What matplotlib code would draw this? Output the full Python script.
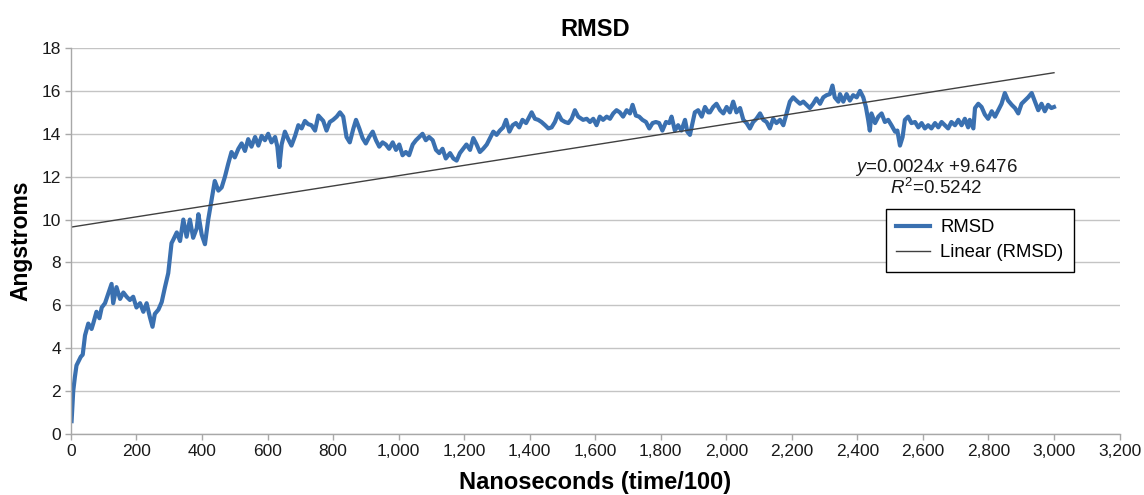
import matplotlib
matplotlib.use("Agg")
import matplotlib.pyplot as plt
from matplotlib.ticker import FuncFormatter, MultipleLocator

plt.rcParams['font.family'] = ['Liberation Sans', 'DejaVu Sans']
plt.rcParams['mathtext.fontset'] = 'custom'
plt.rcParams['mathtext.rm'] = 'Liberation Sans'
plt.rcParams['mathtext.it'] = 'Liberation Sans:italic'

# ---- data ----
time = [2, 7, 12, 17, 22, 30, 36, 43, 53, 63, 68, 78, 87, 94, 104, 114, 124, 129, 139, 150,
        160, 170, 180, 190, 200, 211, 221, 231, 241, 249, 256, 267, 277, 287, 297, 307, 312, 323,
        333, 343, 353,
        363, 373, 384, 389, 399, 409, 419, 429, 439, 450, 460, 470, 480, 490, 500, 511, 521, 531,
        541, 551, 562, 572, 582, 592, 602, 612, 623, 630, 636, 643, 653, 663, 673, 684, 694, 704,
        714, 724, 734, 745, 755,
        770, 780, 790, 800, 811, 821, 831, 841, 851, 862, 870, 880, 890, 900, 910, 921, 931, 941,
        951, 961, 971, 982, 992, 1002, 1012, 1022, 1032, 1043, 1053, 1063, 1073, 1083, 1093, 1104,
        1114, 1124, 1134, 1144,
        1157, 1167, 1177, 1187, 1197, 1207, 1218, 1228, 1238, 1248, 1258, 1269, 1279, 1289, 1299,
        1309, 1319, 1328, 1338, 1348, 1358, 1368, 1378, 1389, 1399, 1406, 1416, 1426, 1436, 1447,
        1457, 1467, 1477, 1487, 1497, 1508, 1518, 1528, 1538, 1548,
        1563, 1574, 1584, 1594, 1604, 1614, 1624, 1635, 1645, 1655, 1665, 1675, 1685, 1696, 1706,
        1714, 1724, 1734, 1744, 1755, 1765, 1775, 1785, 1795, 1805, 1816, 1826, 1833, 1843, 1853,
        1863, 1874, 1881, 1889, 1897, 1904, 1914, 1925, 1935, 1945,
        1950, 1960, 1970, 1981, 1991, 2001, 2011, 2021, 2031, 2042, 2052, 2062, 2072, 2082, 2092,
        2103, 2113, 2123, 2133, 2143, 2153, 2164, 2174, 2184, 2194, 2204, 2214, 2225, 2235, 2245,
        2255, 2265, 2275, 2286, 2296, 2306, 2316, 2324, 2331, 2342,
        2347, 2357, 2367, 2377, 2387, 2398, 2408, 2418, 2426, 2433, 2438, 2443, 2454, 2464, 2474,
        2484, 2494, 2504, 2515, 2522, 2530, 2538, 2545, 2555, 2565, 2576, 2586, 2596, 2606, 2616,
        2626, 2637, 2647, 2657, 2667, 2677, 2687, 2698, 2708, 2718, 2728, 2738,
        2743, 2754, 2759, 2769, 2779, 2789, 2799, 2810, 2820, 2830, 2840, 2850, 2860, 2871, 2881,
        2891, 2901, 2911, 2921, 2932, 2942, 2952, 2962, 2972, 2982, 2992, 3000]

rmsd = [0.6, 2.0, 2.65, 3.2, 3.35, 3.6, 3.7, 4.6, 5.15, 4.9, 5.15, 5.7, 5.4, 5.9, 6.1, 6.55, 7.0, 6.1, 6.85, 6.3,
        6.6, 6.4, 6.25, 6.4, 5.9, 6.1, 5.7, 6.1, 5.45, 5.0, 5.6, 5.8, 6.15, 6.85, 7.5, 8.9, 9.05, 9.4,
        9.0, 10.0, 9.2,
        10.0, 9.15, 9.6, 10.25, 9.3, 8.85, 10.0, 10.9, 11.8, 11.35, 11.5, 12.0, 12.6, 13.15, 12.9, 13.3, 13.55, 13.2,
        13.75, 13.4, 13.85, 13.45, 13.9, 13.7, 14.0, 13.6, 13.85, 13.4, 12.45, 13.5, 14.1, 13.75, 13.45, 13.9, 14.4, 14.25,
        14.6, 14.45, 14.4, 14.15, 14.85,
        14.6, 14.15, 14.55, 14.65, 14.8, 15.0, 14.8, 13.85, 13.6, 14.25, 14.65, 14.25, 13.8, 13.55, 13.85, 14.1, 13.7, 13.4,
        13.6, 13.5, 13.3, 13.6, 13.25, 13.5, 13.0, 13.15, 13.0, 13.5, 13.7, 13.85, 14.0, 13.7, 13.85, 13.7,
        13.25, 13.1, 13.3, 12.85,
        13.1, 12.85, 12.75, 13.1, 13.3, 13.5, 13.25, 13.8, 13.5, 13.15, 13.3, 13.5, 13.8, 14.1, 13.95,
        14.15, 14.3, 14.65, 14.1, 14.4, 14.5, 14.3, 14.65, 14.5, 14.8, 15.0, 14.7, 14.65, 14.55, 14.4,
        14.25, 14.3, 14.55, 14.95, 14.65, 14.55, 14.5, 14.7, 15.1, 14.8,
        14.65, 14.7, 14.55, 14.7, 14.4, 14.8, 14.65, 14.8, 14.7, 14.95, 15.1, 15.0, 14.8, 15.1, 14.95,
        15.35, 14.85, 14.8, 14.65, 14.55, 14.25, 14.5, 14.55, 14.5, 14.15, 14.55, 14.5, 14.8, 14.15, 14.4,
        14.15, 14.65, 14.1, 13.95, 14.5, 15.0, 15.1, 14.8, 15.25, 15.0,
        15.0, 15.25, 15.4, 15.1, 14.95, 15.25, 15.0, 15.5, 15.0, 15.2, 14.65, 14.5, 14.25, 14.55, 14.7,
        14.95, 14.65, 14.55, 14.25, 14.7, 14.5, 14.65, 14.4, 14.95, 15.5, 15.7, 15.55, 15.4, 15.5, 15.35,
        15.2, 15.4, 15.65, 15.4, 15.7, 15.8, 15.85, 16.25, 15.7, 15.5,
        15.85, 15.5, 15.85, 15.55, 15.8, 15.7, 16.0, 15.7, 15.25, 14.65, 14.15, 14.95, 14.5, 14.8, 14.95,
        14.55, 14.65, 14.4, 14.1, 14.15, 13.45, 13.85, 14.65, 14.8, 14.5, 14.55, 14.3, 14.5, 14.25, 14.4,
        14.25, 14.5, 14.3, 14.55, 14.4, 14.25, 14.55, 14.4, 14.65, 14.4, 14.7, 14.3,
        14.65, 14.25, 15.2, 15.4, 15.25, 14.9, 14.7, 15.05, 14.8, 15.1, 15.4, 15.9, 15.55, 15.35, 15.2,
        14.95, 15.4, 15.55, 15.7, 15.9, 15.5, 15.1, 15.4, 15.05, 15.35, 15.2, 15.25]

trend_slope = 0.0024
trend_intercept = 9.6476
trend_x = [0, 3000]
r_squared = 0.5242

x_ticks = list(range(0, 3201, 200))
y_ticks = list(range(0, 19, 2))

# ---- figure ----
fig = plt.figure(figsize=(11.44, 4.95), dpi=100)
ax = fig.add_axes([0.062, 0.1232, 0.9166, 0.7798])

grid_c = '#c4c4c4'
ax.set_xlim(0, 3200)
ax.set_ylim(0, 18)
ax.set_xticks(x_ticks)
ax.set_yticks(y_ticks)
ax.xaxis.set_major_formatter(FuncFormatter(lambda v, p: f"{int(v):,}"))
ax.yaxis.grid(True, color=grid_c, linewidth=1.0)
ax.set_axisbelow(True)
for s in ['top', 'right']:
    ax.spines[s].set_visible(False)
for s in ['left', 'bottom']:
    ax.spines[s].set_color('#a8a8a8')
    ax.spines[s].set_linewidth(1.0)
ax.tick_params(axis='both', colors='#a8a8a8', length=4, width=1, labelsize=12.5,
               labelcolor='#1a1a1a', pad=3)

ax.plot(time, rmsd, color='#3a70b0', linewidth=3.0, label='RMSD', solid_joinstyle='round')
trend_y = [trend_slope * t + trend_intercept for t in trend_x]
ax.plot(trend_x, trend_y, color='#404040', linewidth=1.0, label='Linear (RMSD)')

ax.set_title('RMSD', fontsize=17, fontweight='bold', pad=9)
ax.set_xlabel('Nanoseconds (time/100)', fontsize=17, fontweight='bold', labelpad=9)
ax.set_ylabel('Angstroms', fontsize=16.5, fontweight='bold', labelpad=7)

fig.text(936 / 1144, 1 - 167 / 495, r'$\mathit{y}$=%.4f$\mathit{x}$ +%.4f' % (trend_slope, trend_intercept),
         ha='center', va='center', fontsize=13.5, color='#1a1a1a')
fig.text(936 / 1144, 1 - 188 / 495, r'$\mathit{R}^{\mathrm{2}}$=%.4f' % r_squared,
         ha='center', va='center', fontsize=13.5, color='#1a1a1a')

leg = ax.legend(loc='upper left', bbox_to_anchor=(886 / 1144, 1 - 209 / 495),
                bbox_transform=fig.transFigure, fontsize=13.3, frameon=True, fancybox=False,
                edgecolor='black', framealpha=1, borderpad=0.55, handlelength=1.85,
                handletextpad=0.55, labelspacing=0.45, borderaxespad=0)
leg.get_frame().set_linewidth(1.0)

fig.savefig('out.png', dpi=100)
